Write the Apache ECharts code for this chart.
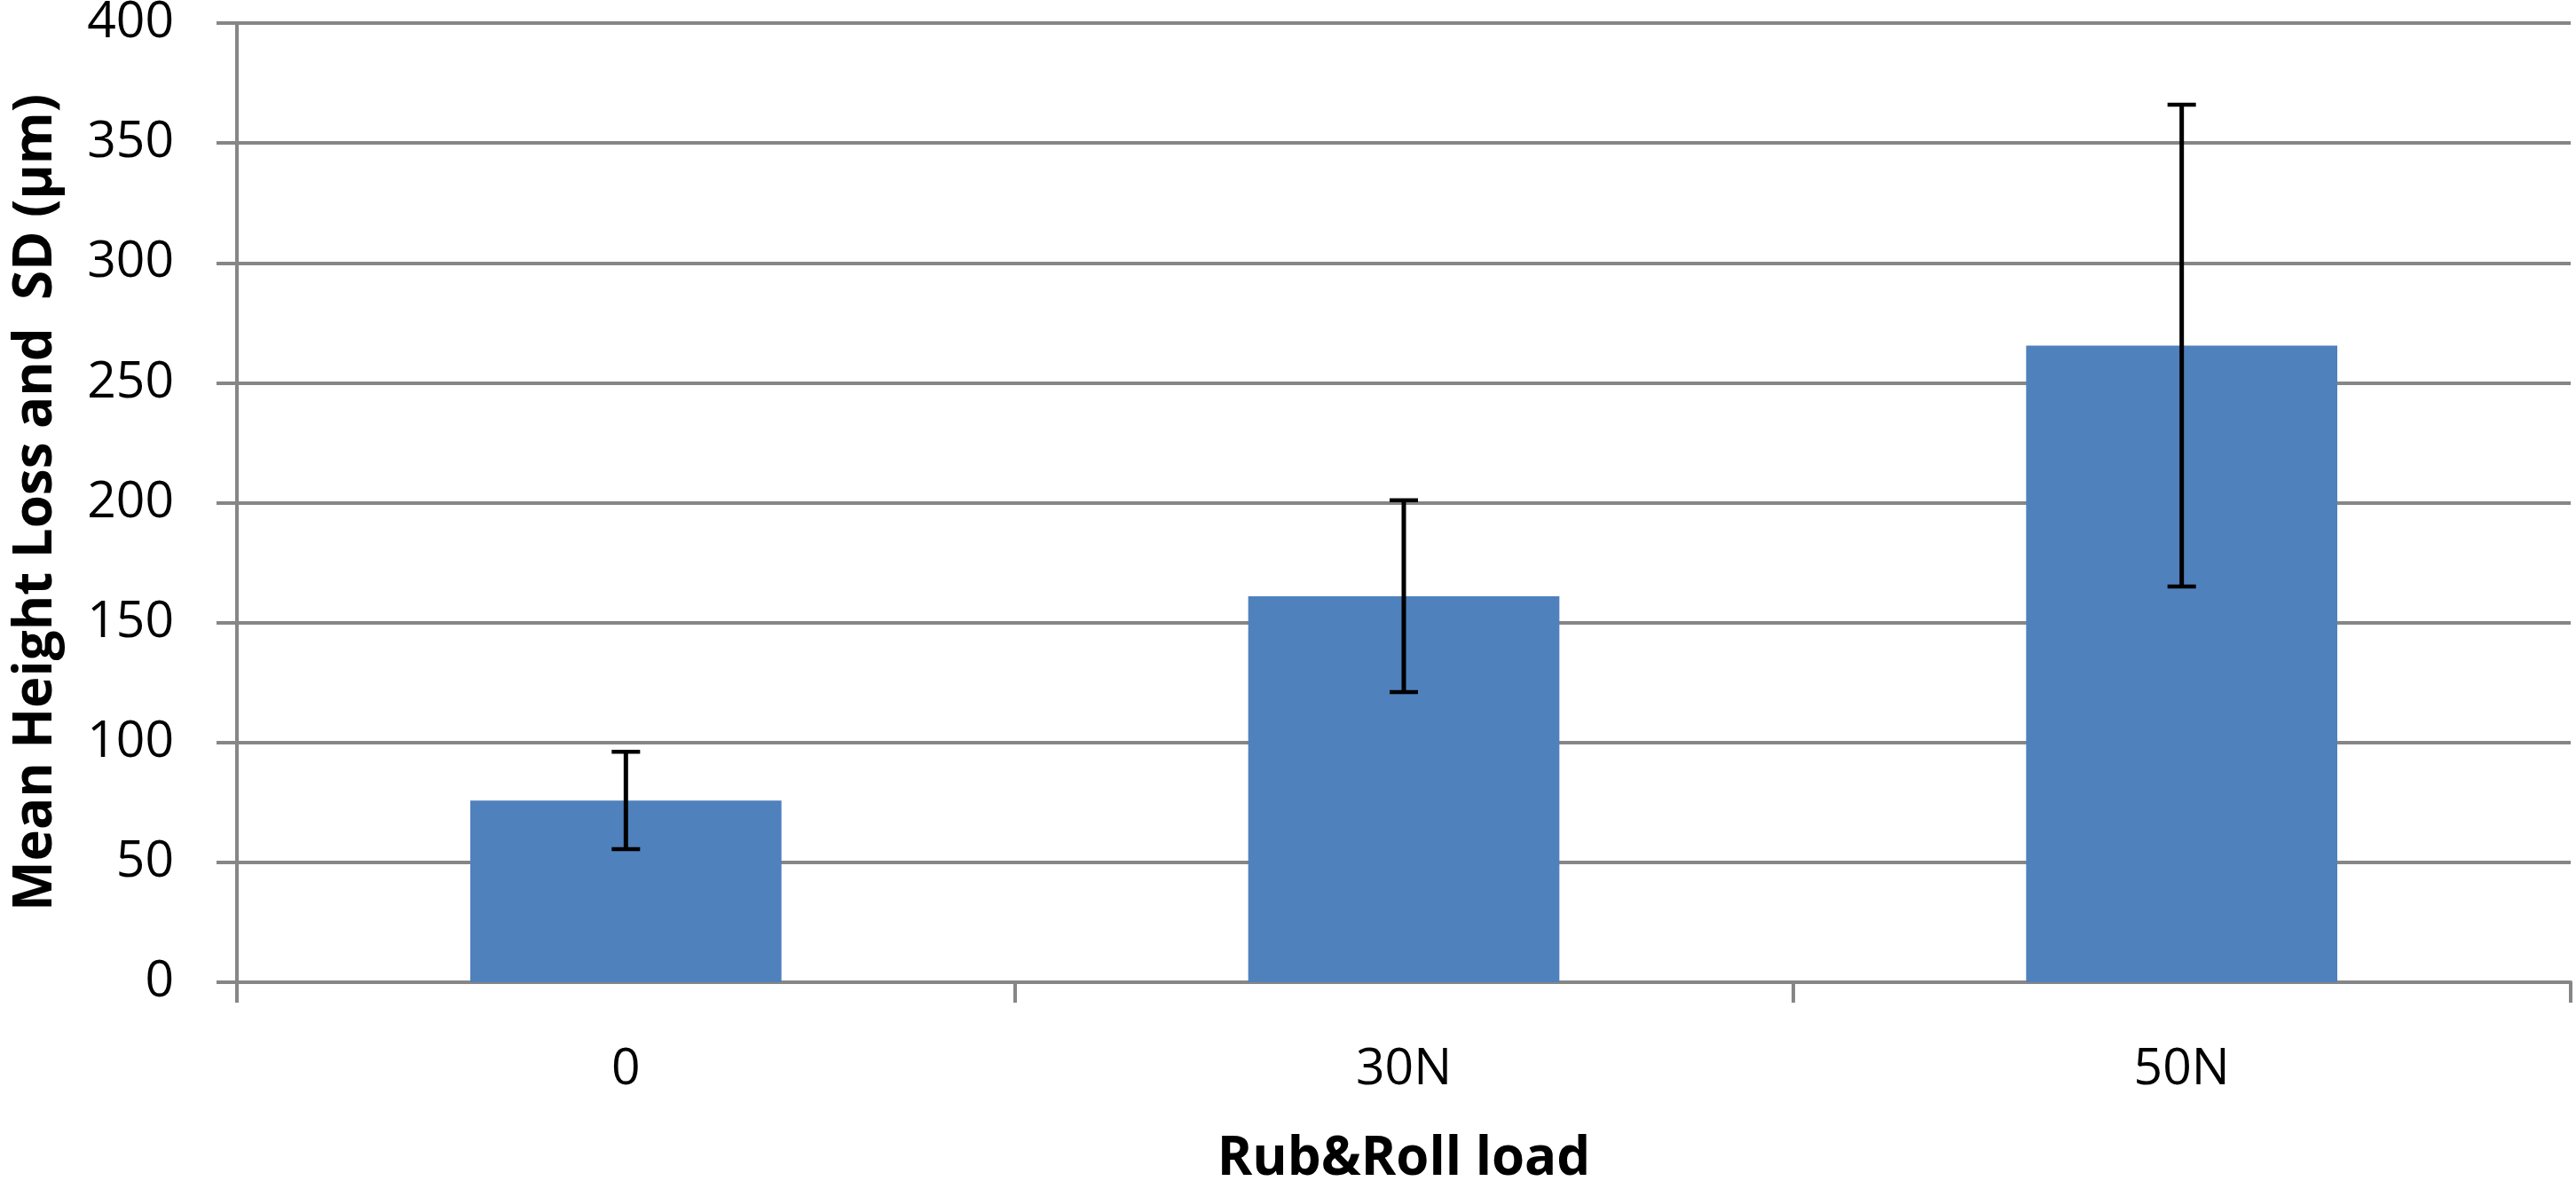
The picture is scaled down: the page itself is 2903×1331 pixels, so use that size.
<!DOCTYPE html>
<html>
<head>
<meta charset="utf-8">
<script src="https://cdn.jsdelivr.net/npm/echarts@6/dist/echarts.min.js"></script>
<style>
html,body{margin:0;padding:0;background:#fff;}
#chart{width:2903px;height:1331px;}
</style>
</head>
<body>
<div id="chart"></div>
<script>
const categories = ['0', '30N', '50N'];
const meanLoss = [75.8, 161.0, 265.5];
const sdLoss = [20.3, 40.0, 100.5];
const yTicks = {min: 0, max: 400, interval: 50};

const chart = echarts.init(document.getElementById('chart'), null, {renderer: 'canvas'});
const axisGrey = '#868686';
const errData = categories.map((c, i) => [i, meanLoss[i] - sdLoss[i], meanLoss[i] + sdLoss[i]]);

chart.setOption({
  animation: false,
  backgroundColor: '#ffffff',
  grid: {left: 267, right: 6, top: 26, bottom: 224, containLabel: false, outerBoundsMode: 'none'},
  xAxis: {
    type: 'category',
    data: categories,
    boundaryGap: true,
    name: 'Rub&Roll load',
    nameLocation: 'middle',
    nameGap: 170,
    nameTextStyle: {fontFamily: 'Open Sans', fontWeight: 'bold', fontSize: 60, color: '#000'},
    axisLine: {show: true, lineStyle: {color: axisGrey, width: 4}},
    axisTick: {show: true, length: 23, alignWithLabel: false, lineStyle: {color: axisGrey, width: 4}},
    axisLabel: {fontFamily: 'Open Sans', fontSize: 57, color: '#000', margin: 70},
    splitLine: {show: false}
  },
  yAxis: {
    type: 'value',
    min: yTicks.min, max: yTicks.max, interval: yTicks.interval,
    name: 'Mean Height Loss and  SD (µm)',
    nameLocation: 'middle',
    nameGap: 196,
    nameRotate: 90,
    nameTextStyle: {fontFamily: 'Open Sans', fontWeight: 'bold', fontSize: 60, color: '#000'},
    axisLine: {show: true, lineStyle: {color: axisGrey, width: 4}},
    axisTick: {show: true, length: 23, lineStyle: {color: axisGrey, width: 4}},
    axisLabel: {fontFamily: 'Open Sans', fontSize: 57, color: '#000', margin: 71},
    splitLine: {show: true, lineStyle: {color: axisGrey, width: 4}}
  },
  series: [
    {
      type: 'bar',
      data: meanLoss,
      barWidth: '40%',
      itemStyle: {color: '#4F81BD'},
      z: 2
    },
    {
      type: 'custom',
      data: errData,
      z: 5,
      renderItem: function (params, api) {
        const x = api.value(0);
        const lo = api.coord([x, api.value(1)]);
        const hi = api.coord([x, api.value(2)]);
        const cap = 16;
        return {
          type: 'group',
          children: [
            {type: 'line', shape: {x1: hi[0], y1: hi[1], x2: lo[0], y2: lo[1]}, style: {stroke: '#000', lineWidth: 5}},
            {type: 'line', shape: {x1: hi[0] - cap, y1: hi[1], x2: hi[0] + cap, y2: hi[1]}, style: {stroke: '#000', lineWidth: 4.5}},
            {type: 'line', shape: {x1: lo[0] - cap, y1: lo[1], x2: lo[0] + cap, y2: lo[1]}, style: {stroke: '#000', lineWidth: 4.5}}
          ]
        };
      }
    }
  ]
});
</script>
</body>
</html>
